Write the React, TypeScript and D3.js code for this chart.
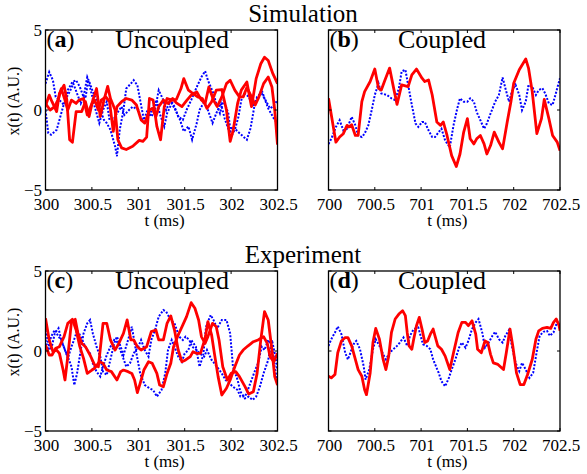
import React from 'react';
import * as d3 from 'd3';

type Pt = [number, number];

// ---------- text / tick data ----------
const rowTitles = ['Simulation', 'Experiment'];
const panelLetters = ['a', 'b', 'c', 'd'];
const panelNames = ['Uncoupled', 'Coupled', 'Uncoupled', 'Coupled'];
const xTicksUncoupled = [300, 300.5, 301, 301.5, 302, 302.5];
const xTicksCoupled = [700, 700.5, 701, 701.5, 702, 702.5];
const yTicks = [5, 0, -5];
const yDomain = [-5, 5];
const xAxisLabel = 't (ms)';
const yAxisLabel = 'x(t) (A.U.)';

// ---------- (a) Simulation, uncoupled ----------
const simUncRed1: Pt[] = [[300.00,0.25],[300.04,0.93],[300.07,0.52],[300.12,-0.1],[300.15,1.03],[300.20,1.55],[300.23,0.62],[300.26,-1.86],[300.29,-2.02],[300.33,-0.1],[300.39,-0.1],[300.43,0.52],[300.47,-0.41],[300.51,0.62],[300.55,1.34],[300.59,-0.41],[300.63,0.62],[300.67,1.48],[300.70,0.72],[300.75,0],[300.78,-1.86],[300.82,-2.37],[300.87,-2.47],[300.94,-2.27],[301.01,-1.9],[301.05,-1.96],[301.09,-1.69],[301.12,0.72],[301.16,0.62],[301.20,-1.03],[301.24,-1.86],[301.28,0.21],[301.31,0.72],[301.36,0.62],[301.41,0.66],[301.46,1.34],[301.49,1.96],[301.54,1.24],[301.59,1.03],[301.64,0.82],[301.69,0.72],[301.74,0.1],[301.79,0.52],[301.84,1.24],[301.90,1.28],[301.95,0],[301.99,-1.96],[302.02,-1.34],[302.07,0.41],[302.11,1.24],[302.17,1.75],[302.22,0.21],[302.27,1.96],[302.32,2.89],[302.36,3.3],[302.40,3.09],[302.45,2.27],[302.50,1.65]];
const simUncRed2: Pt[] = [[300.00,0.41],[300.05,0],[300.10,0.21],[300.14,0.72],[300.17,1.34],[300.21,0.62],[300.24,0],[300.28,0.62],[300.33,0.41],[300.36,0.62],[300.41,0.72],[300.45,-0.31],[300.50,0.41],[300.53,0.62],[300.57,0],[300.60,0.62],[300.65,0.82],[300.69,0.52],[300.73,-1.34],[300.77,0.21],[300.82,0.52],[300.87,0.72],[300.93,0.62],[300.98,0.31],[301.03,-0.62],[301.07,-0.82],[301.12,0],[301.15,0.1],[301.19,-0.41],[301.22,0.21],[301.27,0.62],[301.32,0.41],[301.37,0.72],[301.41,0.45],[301.47,0.21],[301.52,0.58],[301.57,0.93],[301.63,1.13],[301.68,0.62],[301.72,0.41],[301.76,1.44],[301.81,0.62],[301.85,0.21],[301.90,0.82],[301.95,1.65],[301.99,1.86],[302.04,1.24],[302.09,0.82],[302.13,0.82],[302.17,1.4],[302.22,0.82],[302.26,0.31],[302.30,0.82],[302.35,1.65],[302.40,2.06],[302.44,1.44],[302.47,0],[302.50,-2.16]];
const simUncBlue1: Pt[] = [[300.00,1.65],[300.04,2.37],[300.08,1.86],[300.11,0.82],[300.15,0.62],[300.20,0.31],[300.24,1.24],[300.29,1.75],[300.33,1.86],[300.37,1.44],[300.41,0.82],[300.45,2.06],[300.48,1.65],[300.51,1.13],[300.55,0.62],[300.59,0],[300.63,-0.62],[300.66,-0.82],[300.70,-1.24],[300.75,-2.27],[300.77,-2.89],[300.80,-1.24],[300.84,0],[300.87,1.34],[300.92,1.65],[300.95,1.86],[300.99,1.55],[301.02,0.62],[301.06,-0.62],[301.10,0],[301.14,-0.41],[301.18,0],[301.22,1.24],[301.27,0.62],[301.30,0],[301.35,0.62],[301.39,0.21],[301.43,-0.41],[301.48,-0.62],[301.52,0],[301.57,0.62],[301.63,1.44],[301.68,2.06],[301.72,2.43],[301.75,1.86],[301.81,1.03],[301.84,0.41],[301.88,-0.21],[301.92,0.62],[301.97,-0.21],[302.00,-1.65],[302.04,-1.24],[302.08,-0.41],[302.11,0.62],[302.15,1.03],[302.19,0.82],[302.24,0.21],[302.27,0.62],[302.33,1.24],[302.36,0.72],[302.40,0.1],[302.44,-0.31],[302.47,-0.62],[302.50,-0.82]];
const simUncBlue2: Pt[] = [[300.00,0],[300.03,-1.44],[300.06,-1.55],[300.12,-1.24],[300.15,-0.62],[300.19,0.21],[300.23,0.82],[300.26,1.13],[300.30,1.65],[300.34,1.03],[300.38,0.41],[300.41,0.82],[300.43,0.72],[300.46,1.86],[300.50,0.93],[300.53,0.21],[300.58,-0.82],[300.62,0],[300.66,0.52],[300.69,-0.62],[300.73,-0.62],[300.77,-0.21],[300.82,0.21],[300.85,-0.31],[300.90,0],[300.94,0.21],[301.00,0],[301.03,-0.52],[301.08,-0.82],[301.12,-0.31],[301.16,0.21],[301.20,0.62],[301.23,-0.21],[301.28,-1.03],[301.31,-0.21],[301.36,0.41],[301.40,0],[301.45,-0.62],[301.49,-1.34],[301.54,-1.03],[301.58,-1.86],[301.63,-0.82],[301.66,0],[301.71,0.52],[301.75,0],[301.80,-0.82],[301.84,-0.21],[301.89,0.41],[301.93,-0.52],[301.98,-1.34],[302.02,-1.03],[302.07,-1.34],[302.11,-1.55],[302.17,-1.86],[302.21,-1.13],[302.25,0.21],[302.28,0.82],[302.33,1.03],[302.37,0.62],[302.42,0.1],[302.45,0.21],[302.50,0.62]];

// ---------- (b) Simulation, coupled ----------
const simCplRed: Pt[] = [[700.00,0.73],[700.08,-2.01],[700.12,-1.69],[700.16,-1.48],[700.20,-0.96],[700.22,-1.06],[700.25,-0.92],[700.29,-1.59],[700.32,-1.59],[700.36,0.52],[700.39,1.15],[700.45,1.78],[700.50,2.56],[700.54,1.36],[700.57,1.25],[700.61,1.88],[700.66,2.62],[700.70,1.46],[700.74,0.35],[700.79,1.57],[700.86,1.46],[700.90,2.2],[700.95,2.56],[701.01,1.99],[701.04,1.78],[701.08,1.88],[701.12,0.94],[701.17,-0.75],[701.21,-0.96],[701.24,-0.75],[701.28,-1.59],[701.33,-2.85],[701.38,-3.53],[701.42,-2.75],[701.46,-1.38],[701.50,-0.54],[701.53,-1.8],[701.57,-2.12],[701.60,-1.8],[701.64,-1.59],[701.68,-2.12],[701.71,-2.75],[701.75,-2.22],[701.79,-1.38],[701.84,-2.01],[701.88,-2.43],[701.93,-0.75],[701.97,0.52],[702.00,1.67],[702.06,2.52],[702.13,3.19],[702.16,2.62],[702.20,1.15],[702.25,-1.48],[702.30,-0.54],[702.33,0.66],[702.38,-0.54],[702.42,-1.59],[702.47,-2.01],[702.50,-2.54]];
const simCplBlue: Pt[] = [[700.00,-2.12],[700.03,-1.8],[700.08,-1.06],[700.12,-0.64],[700.16,-1.27],[700.20,-1.17],[700.25,-0.43],[700.29,-0.96],[700.32,-1.59],[700.36,-1.69],[700.39,-1.48],[700.43,-0.96],[700.47,0.09],[700.50,0.94],[700.54,1.67],[700.57,1.04],[700.63,0.94],[700.68,0.73],[700.72,0.62],[700.76,1.36],[700.79,2.41],[700.83,2.52],[700.86,1.57],[700.90,0.31],[700.94,-0.85],[700.97,-1.06],[701.01,-0.75],[701.04,-0.75],[701.08,-1.27],[701.12,-1.69],[701.15,-1.69],[701.19,-1.38],[701.22,-1.17],[701.26,-1.91],[701.31,-2.33],[701.35,-0.96],[701.39,0.09],[701.42,0.73],[701.46,0.52],[701.50,0.52],[701.53,0.73],[701.57,0.52],[701.60,-0.12],[701.64,-0.64],[701.68,-1.17],[701.71,-0.85],[701.75,-0.22],[701.80,0.52],[701.84,0.94],[701.88,2.03],[701.91,1.36],[701.95,0.52],[701.98,1.15],[702.02,1.57],[702.06,0.94],[702.09,-0.01],[702.13,0.52],[702.16,1.57],[702.20,1.46],[702.24,0.94],[702.27,1.25],[702.31,1.36],[702.34,1.04],[702.38,0.41],[702.42,0.31],[702.45,0.94],[702.50,1.99]];

// ---------- (c) Experiment, uncoupled ----------
const expUncRed1: Pt[] = [[300.00,2.04],[300.04,0.69],[300.08,-0.04],[300.12,0.06],[300.15,-0.15],[300.19,-1.19],[300.21,-1.81],[300.24,-0.35],[300.28,1.83],[300.32,1.98],[300.35,1.1],[300.39,0.48],[300.43,0.27],[300.48,-0.25],[300.53,-0.88],[300.57,-0.98],[300.62,1.73],[300.66,1.73],[300.70,0.69],[300.75,0.06],[300.79,0.48],[300.84,1.1],[300.88,1.94],[300.92,0.69],[300.95,0.69],[300.99,0.27],[301.03,0.06],[301.09,0.27],[301.14,1.21],[301.19,1.31],[301.22,0.69],[301.27,0.69],[301.31,1.73],[301.35,2.19],[301.39,1.31],[301.43,0.06],[301.47,-0.67],[301.51,-0.56],[301.56,-0.35],[301.59,-0.04],[301.63,-0.15],[301.67,-0.15],[301.72,0.79],[301.75,1.83],[301.79,1.0],[301.82,-0.15],[301.86,-1.6],[301.90,-2.75],[301.95,-2.33],[301.99,-1.81],[302.04,-0.98],[302.09,-0.25],[302.13,0.06],[302.18,0.31],[302.24,0.58],[302.29,0.69],[302.35,0.9],[302.39,0.48],[302.42,-0.35],[302.46,-0.67],[302.50,-0.15]];
const expUncRed2: Pt[] = [[300.00,0.38],[300.04,-0.25],[300.07,-0.25],[300.11,0.17],[300.15,0.27],[300.20,0.9],[300.24,1.73],[300.29,1.98],[300.33,1.31],[300.37,0.27],[300.41,-0.46],[300.45,-1.4],[300.50,-1.19],[300.53,-1.08],[300.58,-0.67],[300.62,-0.77],[300.66,-1.19],[300.71,-1.29],[300.77,-1.81],[300.81,-1.29],[300.84,-1.19],[300.89,-1.29],[300.93,-1.4],[300.96,-1.81],[300.99,-2.6],[301.02,-2.02],[301.06,-1.19],[301.11,-0.67],[301.15,-0.77],[301.20,-1.4],[301.23,-2.13],[301.27,-2.23],[301.31,-1.4],[301.35,-0.77],[301.38,0.27],[301.43,1.0],[301.48,1.63],[301.52,2.15],[301.57,3.02],[301.61,2.67],[301.65,1.94],[301.68,0.9],[301.72,0.48],[301.75,0.9],[301.80,1.73],[301.84,1.52],[301.87,0.69],[301.91,-0.98],[301.96,-1.81],[302.00,-1.4],[302.05,-1.29],[302.09,-1.6],[302.15,-2.23],[302.19,-2.69],[302.24,-2.54],[302.28,-1.4],[302.32,0.69],[302.36,2.46],[302.40,1.94],[302.44,0.06],[302.47,-1.6],[302.50,-2.13]];
const expUncBlue1: Pt[] = [[300.00,1.31],[300.03,0.48],[300.06,0.06],[300.10,1.1],[300.14,1.42],[300.17,0.69],[300.21,0.06],[300.24,-0.35],[300.28,-0.98],[300.31,-2.13],[300.34,-1.4],[300.38,0.06],[300.41,1.1],[300.45,1.73],[300.48,1.94],[300.51,1.1],[300.55,0.27],[300.59,-0.35],[300.62,-1.29],[300.66,-1.5],[300.69,-0.77],[300.74,0.48],[300.77,0.9],[300.81,0.27],[300.84,-0.25],[300.89,0.69],[300.93,1.52],[300.98,-0.15],[301.02,-1.4],[301.07,-2.13],[301.12,-2.33],[301.16,-2.44],[301.20,-2.85],[301.25,-2.44],[301.29,-1.4],[301.32,0.06],[301.36,0.69],[301.39,0.27],[301.43,-0.35],[301.47,-0.67],[301.50,-0.15],[301.54,0.06],[301.57,0.69],[301.62,0.27],[301.66,-0.98],[301.70,-0.25],[301.73,1.52],[301.78,2.25],[301.81,1.94],[301.85,1.42],[301.90,1.94],[301.95,1.94],[301.99,1.1],[302.02,-0.98],[302.07,-1.81],[302.10,-2.54],[302.15,-2.96],[302.19,-2.85],[302.23,-3.06],[302.27,-2.85],[302.31,-2.23],[302.35,-1.4],[302.40,-0.56],[302.44,0.69],[302.47,-0.15],[302.50,-1.19]];
const expUncBlue2: Pt[] = [[300.00,0.69],[300.03,0.06],[300.06,0.9],[300.10,1.31],[300.14,0.9],[300.17,0.69],[300.21,0.06],[300.24,-0.46],[300.28,0.27],[300.32,0.9],[300.34,1.31],[300.38,0.9],[300.41,0.48],[300.45,0.06],[300.48,-0.15],[300.51,-0.77],[300.55,-1.29],[300.59,-1.6],[300.62,-0.98],[300.66,-0.25],[300.70,0.27],[300.74,0.69],[300.77,0.58],[300.82,-0.15],[300.87,-0.98],[300.91,-0.77],[300.95,-0.15],[301.00,0.27],[301.03,0.69],[301.07,0.06],[301.11,-0.35],[301.14,0.69],[301.18,1.31],[301.22,2.15],[301.27,2.56],[301.30,2.46],[301.35,1.94],[301.39,1.73],[301.44,0.9],[301.48,0.69],[301.51,0.9],[301.55,0.69],[301.58,0.27],[301.63,0.06],[301.66,-0.15],[301.71,-0.35],[301.74,0.06],[301.79,-0.56],[301.82,-0.77],[301.86,-1.08],[301.90,-1.4],[301.94,-1.81],[301.98,-2.02],[302.02,-2.23],[302.07,-2.44],[302.10,-2.85],[302.15,-2.85],[302.18,-2.44],[302.22,-1.81],[302.26,-1.19],[302.29,-0.77],[302.33,0.27],[302.36,0.06],[302.40,0.69],[302.44,0.27],[302.47,-0.98],[302.50,-2.02]];

// ---------- (d) Experiment, coupled ----------
const expCplRed: Pt[] = [[700.00,-1.58],[700.03,-1.68],[700.07,-1.47],[700.10,-0.11],[700.14,0.63],[700.18,0.84],[700.21,0.84],[700.25,0.32],[700.29,-0.53],[700.32,-1.16],[700.36,-1.58],[700.39,-2.42],[700.41,-2.73],[700.45,-1.37],[700.48,0.53],[700.51,1.41],[700.55,0.74],[700.59,-0.53],[700.62,-1.16],[700.65,-0.32],[700.68,1.16],[700.72,2.0],[700.76,2.31],[700.80,2.52],[700.83,2.21],[700.85,1.16],[700.87,0.32],[700.90,0.11],[700.92,0.74],[700.95,1.58],[700.98,2.1],[701.01,1.37],[701.04,0.53],[701.07,0.63],[701.10,1.05],[701.13,1.37],[701.15,0.95],[701.18,0.32],[701.22,0.11],[701.26,-0.32],[701.31,-1.16],[701.35,-0.11],[701.40,1.16],[701.44,1.79],[701.48,1.79],[701.51,1.58],[701.55,1.89],[701.59,1.05],[701.61,0.11],[701.65,-0.11],[701.69,0.63],[701.72,0.53],[701.75,-0.21],[701.78,-0.74],[701.83,-0.84],[701.89,-1.16],[701.92,-0.11],[701.96,1.37],[701.99,0.32],[702.03,-1.37],[702.07,-2.1],[702.11,-2.1],[702.15,-1.47],[702.20,-0.53],[702.24,0.74],[702.27,1.26],[702.31,1.41],[702.36,1.47],[702.40,1.41],[702.43,1.79],[702.46,2.0],[702.49,1.58],[702.50,1.26]];
const expCplBlue: Pt[] = [[700.00,0.32],[700.03,0.74],[700.07,1.16],[700.10,1.53],[700.14,1.05],[700.18,-0.11],[700.21,-0.53],[700.25,0.11],[700.28,0.53],[700.30,0.63],[700.34,0.11],[700.38,-0.95],[700.40,-1.79],[700.44,-1.16],[700.48,0.11],[700.51,0.74],[700.55,0.32],[700.59,-0.21],[700.62,-0.53],[700.66,-0.11],[700.70,0.11],[700.74,0.32],[700.77,0.53],[700.81,0.84],[700.85,0.32],[700.88,0.95],[700.92,1.37],[700.97,1.47],[701.02,0.42],[701.06,0.32],[701.10,0.11],[701.13,-0.53],[701.19,-1.37],[701.22,-1.89],[701.26,-2.21],[701.30,-1.68],[701.33,-1.16],[701.37,-0.53],[701.41,0.21],[701.44,0.53],[701.48,0.21],[701.51,0.63],[701.55,1.37],[701.59,1.79],[701.62,2.0],[701.66,1.16],[701.69,0.21],[701.73,0.53],[701.77,0.95],[701.80,1.2],[701.84,0.74],[701.88,0.53],[701.91,0.95],[701.95,1.32],[701.98,0.32],[702.02,-0.74],[702.06,-1.26],[702.09,-0.74],[702.13,-1.16],[702.17,-1.68],[702.21,-1.37],[702.25,0],[702.28,0.95],[702.32,1.2],[702.36,1.26],[702.39,0.95],[702.43,1.16],[702.47,1.83],[702.50,1.58]];

// ---------- layout ----------
const W = 587;
const H = 474;
const FONT = '"Liberation Serif", "Times New Roman", Times, serif';
const colBounds = [[45.5, 277.5], [328.5, 560]];
const rowBounds = [[30, 190], [271, 431]];
const RED = '#ff0000';
const BLUE = '#0000ff';

const panels = [
  { row: 0, col: 0, ticks: xTicksUncoupled, reds: [simUncRed1, simUncRed2], blues: [simUncBlue1, simUncBlue2] },
  { row: 0, col: 1, ticks: xTicksCoupled, reds: [simCplRed], blues: [simCplBlue] },
  { row: 1, col: 0, ticks: xTicksUncoupled, reds: [expUncRed1, expUncRed2], blues: [expUncBlue1, expUncBlue2] },
  { row: 1, col: 1, ticks: xTicksCoupled, reds: [expCplRed], blues: [expCplBlue] },
];

function Panel({ idx }: { idx: number }) {
  const p = panels[idx];
  const [left, right] = colBounds[p.col];
  const [top, bottom] = rowBounds[p.row];
  const x = d3.scaleLinear().domain([p.ticks[0], p.ticks[p.ticks.length - 1]]).range([left, right]);
  const y = d3.scaleLinear().domain(yDomain).range([bottom, top]);
  const line = d3.line<Pt>().x(d => x(d[0])).y(d => y(d[1]));
  const clipId = `clip-${idx}`;
  const tl = 3;
  return (
    <g>
      <defs>
        <clipPath id={clipId}>
          <rect x={left} y={top} width={right - left} height={bottom - top} />
        </clipPath>
      </defs>
      <g clipPath={`url(#${clipId})`}>
        {p.blues.map((s, i) => (
          <path key={'b' + i} d={line(s) || ''} fill="none" stroke={BLUE} strokeWidth={2} strokeDasharray="2,1.6" />
        ))}
        {p.reds.map((s, i) => (
          <path key={'r' + i} d={line(s) || ''} fill="none" stroke={RED} strokeWidth={2.8} strokeLinejoin="round" />
        ))}
      </g>
      <rect x={left} y={top} width={right - left} height={bottom - top} fill="none" stroke="#000" strokeWidth={1.3} />
      {p.ticks.map(t => (
        <g key={'xt' + t}>
          <line x1={x(t)} x2={x(t)} y1={bottom} y2={bottom - tl} stroke="#000" strokeWidth={1} />
          <line x1={x(t)} x2={x(t)} y1={top} y2={top + tl} stroke="#000" strokeWidth={1} />
          <text x={x(t) + 1} y={bottom + 20} textAnchor="middle" fontSize={17} fontFamily={FONT}>{String(t)}</text>
        </g>
      ))}
      {yTicks.map(v => (
        <g key={'yt' + v}>
          <line x1={left} x2={left + tl} y1={y(v)} y2={y(v)} stroke="#000" strokeWidth={1} />
          <line x1={right} x2={right - tl} y1={y(v)} y2={y(v)} stroke="#000" strokeWidth={1} />
          {p.col === 0 && (
            <text x={left - 3.5} y={y(v)} dy="0.35em" textAnchor="end" fontSize={17} fontFamily={FONT}>
              {v < 0 ? '\u2212' + Math.abs(v) : String(v)}
            </text>
          )}
        </g>
      ))}
      <text x={(left + right) / 2 + 3} y={bottom + 36} textAnchor="middle" fontSize={17} fontFamily={FONT}>{xAxisLabel}</text>
      {p.col === 0 && (
        <text transform={`translate(19,${top + 71}) rotate(-90)`} textAnchor="middle" fontSize={16} fontFamily={FONT}>{yAxisLabel}</text>
      )}
      <text x={left + 1} y={top + 17} fontSize={24} fontFamily={FONT}>
        (<tspan fontWeight="bold">{panelLetters[idx]}</tspan>)
      </text>
      <text x={left + 69.5} y={top + 18} fontSize={26} fontFamily={FONT}>{panelNames[idx]}</text>
    </g>
  );
}

export default function App() {
  return (
    <svg width={W} height={H} style={{ position: 'absolute', left: 0, top: 0, background: '#fff' }}>
      <rect width={W} height={H} fill="#fff" />
      {rowTitles.map((t, r) => (
        <text key={t} x={303} y={rowBounds[r][0] - 8} textAnchor="middle" fontSize={25} fontFamily={FONT}>{t}</text>
      ))}
      {panels.map((_, i) => <Panel key={i} idx={i} />)}
    </svg>
  );
}
